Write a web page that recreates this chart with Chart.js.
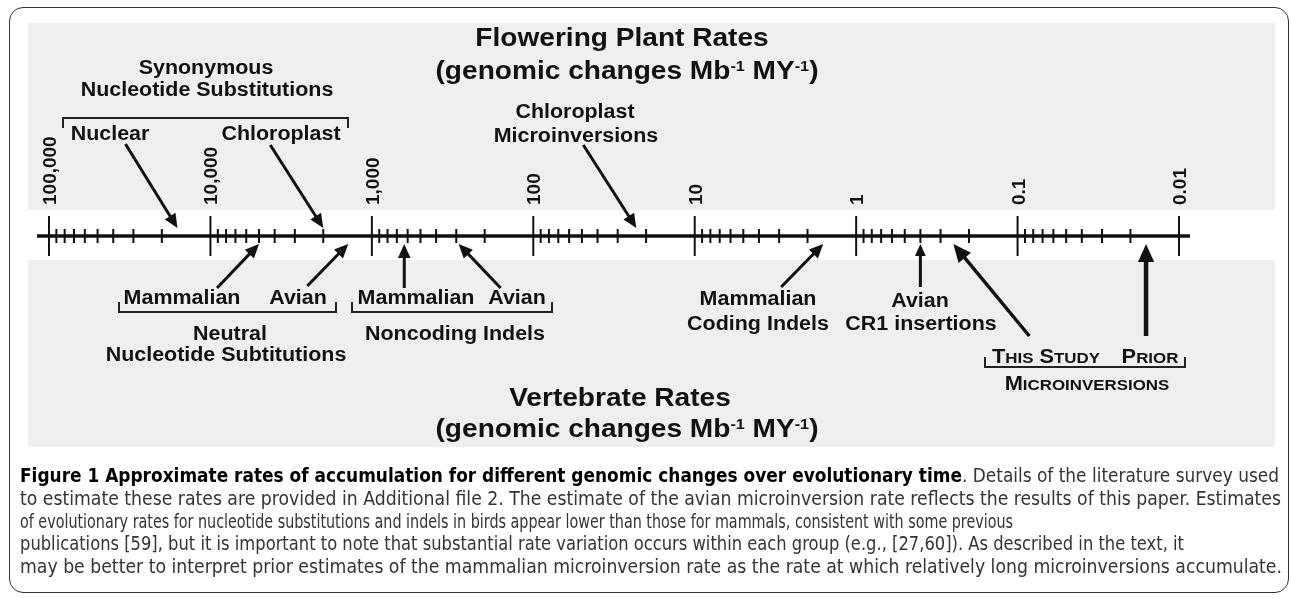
<!DOCTYPE html>
<html>
<head>
<meta charset="utf-8">
<script src="https://cdn.jsdelivr.net/npm/chart.js@4.4.1/dist/chart.umd.min.js"></script>
<style>
  html, body { margin: 0; padding: 0; background: #fff; width: 1290px; height: 598px; overflow: hidden; }
  #chart { position: absolute; left: 0; top: 0; }
  #frame {
    position: absolute; left: 9px; top: 7px; width: 1280px; height: 586px;
    border: 1.5px solid #333; border-radius: 14px; box-sizing: border-box; pointer-events: none;
  }
  #caption {
    position: absolute; left: 20px; top: 464px;
    font-family: "Liberation Sans Narrow", "DejaVu Sans Condensed", "Arial Narrow", sans-serif;
    font-size: 19px; color: #333;
  }
  #caption div { height: 22.8px; line-height: 22.8px; white-space: nowrap; }
  #caption .fit { display: inline-block; white-space: pre; vertical-align: top; }
  #caption .fit > span { display: inline-block; transform-origin: 0 50%; }
  #caption b { color: #000; }
</style>
</head>
<body>
<canvas id="chart" width="1290" height="598"></canvas>
<div id="caption">
  <div><span class="fit" data-w="1259"><b>Figure 1 Approximate rates of accumulation for different genomic changes over evolutionary time</b>. Details of the literature survey used</span></div>
  <div><span class="fit" data-w="1261">to estimate these rates are provided in Additional file 2. The estimate of the avian microinversion rate reflects the results of this paper. Estimates</span></div>
  <div><span class="fit" data-w="993">of evolutionary rates for nucleotide substitutions and indels in birds appear lower than those for mammals, consistent with some previous</span></div>
  <div><span class="fit" data-w="1164">publications [59], but it is important to note that substantial rate variation occurs within each group (e.g., [27,60]). As described in the text, it</span></div>
  <div><span class="fit" data-w="1262">may be better to interpret prior estimates of the mammalian microinversion rate as the rate at which relatively long microinversions accumulate.</span></div>
</div>
<div id="frame"></div>
<script>
// eixo (taxas, mudanças por Mb por milhão de anos)
const tickValues = [100000, 10000, 1000, 100, 10, 1, 0.1, 0.01];
const tickLabels = ['100,000', '10,000', '1,000', '100', '10', '1', '0.1', '0.01'];
const minorSteps = [2, 3, 4, 5, 6, 7, 8, 9];

// plantas com flor (setas por cima do eixo)
const plantCategories = ['Synonymous Nuclear', 'Synonymous Chloroplast', 'Chloroplast Microinversions'];
const plantRates = [16000, 2000, 23];

// vertebrados (setas por baixo do eixo)
const vertebrateCategories = [
  'Neutral Mammalian', 'Neutral Avian', 'Noncoding Indels Mammalian', 'Noncoding Indels Avian',
  'Mammalian Coding Indels', 'Avian CR1 insertions', 'Microinversions This Study', 'Microinversions Prior'
];
const vertebrateRates = [5000, 1400, 630, 290, 1.6, 0.4, 0.25, 0.016];

// estilo das setas: [dx, dy da cauda em relação à ponta, espessura, tamanho da cabeça]
const plantArrowStyle = [[-52, -84, 3, 14], [-53, -83, 3, 14], [-53, -83, 3, 14]];
const vertebrateArrowStyle = [
  [-42, 44, 3, 14], [-41, 42, 3, 14], [0, 44, 3, 14], [42, 44, 3, 14],
  [-42, 43, 3, 14], [0, 43, 3, 12], [76, 92, 3.5, 18], [0, 92, 4.5, 18]
];

const FONT = '"Liberation Sans", Arial, Helvetica, sans-serif';
const INK = '#111';
const STRETCH = 1.1;

// textos das anotações (centro x, centro y)
const annotationTexts = [
  ['Synonymous', 206, 67], ['Nucleotide Substitutions', 207, 89],
  ['Nuclear', 110, 133], ['Chloroplast', 281, 133],
  ['Chloroplast', 575, 111], ['Microinversions', 576, 135],
  ['Mammalian', 182, 297], ['Avian', 298, 297],
  ['Neutral', 230, 333], ['Nucleotide Subtitutions', 226, 354],
  ['Mammalian', 416, 297], ['Avian', 517, 297], ['Noncoding Indels', 455, 333],
  ['Mammalian', 758, 298], ['Coding Indels', 758, 323],
  ['Avian', 920, 300], ['CR1 insertions', 921, 323]
];

// colchetes: [x1, x2, y, direção das pontas]
const brackets = [[63, 348, 118, 1], [119, 336, 312, -1], [352, 552, 312, -1], [985, 1185, 367, -1]];

function drawRuns(ctx, parts, cx, cy, stretch) {
  let w = 0;
  let maxSize = 0;
  parts.forEach(p => {
    ctx.font = `bold ${p.size}px ${FONT}`;
    p.w = ctx.measureText(p.t).width;
    w += p.w;
    maxSize = Math.max(maxSize, p.size);
  });
  ctx.save();
  ctx.translate(cx, cy + maxSize * 0.36);
  ctx.scale(stretch, 1);
  ctx.textBaseline = 'alphabetic';
  ctx.fillStyle = INK;
  let x = -w / 2;
  parts.forEach(p => {
    ctx.font = `bold ${p.size}px ${FONT}`;
    ctx.fillText(p.t, x, p.dy || 0);
    x += p.w;
  });
  ctx.restore();
}

function smallCaps(text, big, small) {
  const parts = [];
  text.toUpperCase().split(' ').forEach((word, i) => {
    if (i > 0) parts.push({ t: ' ', size: big });
    parts.push({ t: word[0], size: big });
    if (word.length > 1) parts.push({ t: word.slice(1), size: small });
  });
  return parts;
}

function drawArrow(ctx, tx, ty, style) {
  const [dx, dy, lw, head] = style;
  const len = Math.hypot(dx, dy);
  const ux = dx / len, uy = dy / len;
  const bx = tx + ux * head, by = ty + uy * head;
  const half = head * 0.45;
  ctx.save();
  ctx.strokeStyle = INK;
  ctx.fillStyle = INK;
  ctx.lineWidth = lw;
  ctx.beginPath();
  ctx.moveTo(tx + dx, ty + dy);
  ctx.lineTo(bx - ux, by - uy);
  ctx.stroke();
  ctx.beginPath();
  ctx.moveTo(tx, ty);
  ctx.lineTo(bx - uy * half, by + ux * half);
  ctx.lineTo(bx + uy * half, by - ux * half);
  ctx.closePath();
  ctx.fill();
  ctx.restore();
}

const ratePlot = {
  id: 'ratePlot',
  beforeDraw(chart) {
    const { ctx } = chart;
    const yAxis = chart.scales.y.getPixelForValue(0);
    ctx.save();
    ctx.fillStyle = '#eeefee';
    ctx.fillRect(28, 23, 1247, 424);
    ctx.fillStyle = '#ffffff';
    ctx.fillRect(28, yAxis - 26, 1247, 50);
    ctx.restore();
  },
  afterDatasetsDraw(chart) {
    const { ctx } = chart;
    const xs = chart.scales.x;
    const y0 = chart.scales.y.getPixelForValue(0);

    // linha do eixo
    ctx.save();
    ctx.strokeStyle = INK;
    ctx.lineWidth = 3.5;
    ctx.beginPath();
    ctx.moveTo(xs.getPixelForValue(xs.max) - 12, y0);
    ctx.lineTo(xs.getPixelForValue(xs.min) + 11, y0);
    ctx.stroke();

    // marcas do eixo (ticks da escala log)
    xs.ticks.forEach(tk => {
      const x = xs.getPixelForValue(tk.value);
      const h = tk.major ? 20 : 7;
      ctx.lineWidth = 2;
      ctx.beginPath();
      ctx.moveTo(x, y0 - h);
      ctx.lineTo(x, y0 + h);
      ctx.stroke();
    });

    // rótulos rotacionados
    tickValues.forEach((v, i) => {
      const x = xs.getPixelForValue(v);
      ctx.save();
      ctx.translate(x + 7, y0 - 31);
      ctx.rotate(-Math.PI / 2);
      ctx.font = `bold 19px ${FONT}`;
      ctx.fillStyle = INK;
      ctx.textBaseline = 'alphabetic';
      ctx.fillText(tickLabels[i], 0, 0);
      ctx.restore();
    });
    ctx.restore();

    // setas
    const plantMeta = chart.getDatasetMeta(0);
    plantMeta.data.forEach((pt, i) => drawArrow(ctx, pt.x, pt.y - 8, plantArrowStyle[i]));
    const vertMeta = chart.getDatasetMeta(1);
    vertMeta.data.forEach((pt, i) => drawArrow(ctx, pt.x, pt.y + 8, vertebrateArrowStyle[i]));

    // colchetes
    ctx.save();
    ctx.strokeStyle = '#222';
    ctx.lineWidth = 2;
    brackets.forEach(([x1, x2, y, d]) => {
      ctx.beginPath();
      ctx.moveTo(x1, y + d * 10);
      ctx.lineTo(x1, y);
      ctx.lineTo(x2, y);
      ctx.lineTo(x2, y + d * 10);
      ctx.stroke();
    });
    ctx.restore();

    // textos
    annotationTexts.forEach(([t, x, y]) => drawRuns(ctx, [{ t, size: 19.5 }], x, y, STRETCH));
    drawRuns(ctx, smallCaps('This Study', 20, 15.5), 1046, 356, 1.09);
    drawRuns(ctx, smallCaps('Prior', 20, 15.5), 1150, 356, 1.09);
    drawRuns(ctx, smallCaps('Microinversions', 20, 15.5), 1087, 383, 1.09);

    // títulos
    const unitLine = [
      { t: '(genomic changes Mb', size: 26 }, { t: '-1', size: 15, dy: -8.5 },
      { t: ' MY', size: 26 }, { t: '-1', size: 15, dy: -8.5 }, { t: ')', size: 26 }
    ];
    drawRuns(ctx, [{ t: 'Flowering Plant Rates', size: 26 }], 622, 37, 1.08);
    drawRuns(ctx, unitLine, 627, 70, 1.08);
    drawRuns(ctx, [{ t: 'Vertebrate Rates', size: 26 }], 620, 397, 1.08);
    drawRuns(ctx, unitLine, 627, 428, 1.08);
  }
};

new Chart(document.getElementById('chart'), {
  type: 'scatter',
  data: {
    datasets: [
      { label: 'Flowering Plant Rates', data: plantRates.map((r, i) => ({ x: r, y: 0, name: plantCategories[i] })), pointRadius: 0 },
      { label: 'Vertebrate Rates', data: vertebrateRates.map((r, i) => ({ x: r, y: 0, name: vertebrateCategories[i] })), pointRadius: 0 }
    ]
  },
  options: {
    responsive: false,
    animation: false,
    events: [],
    layout: { padding: { left: 49, right: 111, top: 216, bottom: 342 } },
    plugins: { legend: { display: false }, tooltip: { enabled: false } },
    scales: {
      x: {
        type: 'logarithmic', reverse: true, min: 0.01, max: 100000, display: false,
        ticks: { autoSkip: false },
        // décadas + subdivisões 2..9
        afterBuildTicks(scale) {
          const ticks = [];
          tickValues.forEach(v => {
            ticks.push({ value: v, major: true });
            if (v > scale.min) minorSteps.forEach(m => ticks.push({ value: v / 10 * m, major: false }));
          });
          scale.ticks = ticks;
        }
      },
      y: { type: 'linear', min: -1, max: 1, display: false }
    }
  },
  plugins: [ratePlot]
});

// ajusta a largura de cada linha da legenda
document.querySelectorAll('#caption .fit').forEach(el => {
  const target = +el.dataset.w;
  const inner = document.createElement('span');
  inner.innerHTML = el.innerHTML;
  el.innerHTML = '';
  el.appendChild(inner);
  const w = inner.getBoundingClientRect().width;
  inner.style.transform = `scaleX(${target / w})`;
  el.style.width = target + 'px';
});
</script>
</body>
</html>
